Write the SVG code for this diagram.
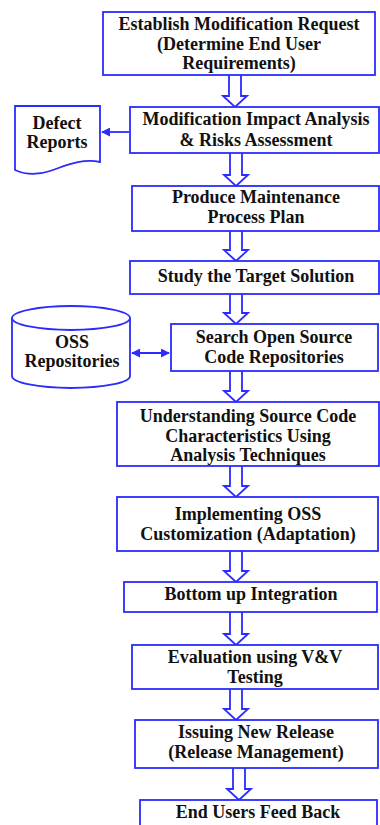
<svg xmlns="http://www.w3.org/2000/svg" width="380" height="825" viewBox="0 0 380 825">
<defs>
<style>
.box{fill:#fff;stroke:#2b2bff;stroke-width:1.8}
.t{font-family:'Liberation Serif','Times New Roman','DejaVu Serif',serif;font-weight:bold;font-size:18px;fill:#111;text-anchor:middle}
.blk{fill:#fff;stroke:#2b2bff;stroke-width:1.8;stroke-linejoin:miter}
.ln{stroke:#2b2bff;stroke-width:1.8;fill:none}
</style>
<marker id="ah" viewBox="0 0 10 10" refX="9" refY="5" markerWidth="5" markerHeight="5" orient="auto-start-reverse" markerUnits="strokeWidth">
<path d="M0,0 L10,5 L0,10 Z" fill="#2b2bff"/>
</marker>
</defs>
<rect width="380" height="825" fill="#fff"/>
<g id="connectors">
<path class="blk" d="M229,75 V96 H223 L235,107 L247,96 H241 V75"/>
<path class="blk" d="M230,153 V175 H224 L236,186 L248,175 H242 V153"/>
<path class="blk" d="M230,231 V250 H224 L236,261 L248,250 H242 V231"/>
<path class="blk" d="M230,294 V313 H224 L236,324 L248,313 H242 V294"/>
<path class="blk" d="M230,371 V391 H224 L236,402 L248,391 H242 V371"/>
<path class="blk" d="M230,466 V486 H224 L236,497 L248,486 H242 V466"/>
<path class="blk" d="M230,551 V571 H224 L236,582 L248,571 H242 V551"/>
<path class="blk" d="M230,612 V634 H224 L236,645 L248,634 H242 V612"/>
<path class="blk" d="M230,689 V709 H224 L236,720 L248,709 H242 V689"/>
<path class="blk" d="M233,768 V789 H227 L239,800 L251,789 H245 V768"/>
<line class="ln" x1="129" y1="132" x2="102" y2="132" marker-end="url(#ah)"/>
<line class="ln" x1="132" y1="353" x2="169" y2="353" marker-start="url(#ah)" marker-end="url(#ah)"/>
</g>
<g id="n1"><rect class="box" x="103" y="12" width="272" height="63"/>
<text class="t" x="239" y="30">Establish Modification Request</text>
<text class="t" x="239" y="50">(Determine End User</text>
<text class="t" x="239" y="69">Requirements)</text></g>
<g id="n2"><rect class="box" x="130" y="107" width="249" height="46"/>
<text class="t" x="256" y="125">Modification Impact Analysis</text>
<text class="t" x="256" y="146">&amp; Risks Assessment</text></g>
<g id="defect"><path class="box" d="M15,106 H100 V162 C82,158 65,166 50,171 C38,175 26,175 15,170 Z"/>
<text class="t" x="57" y="129">Defect</text>
<text class="t" x="57" y="148">Reports</text></g>
<g id="n3"><rect class="box" x="132" y="186" width="247" height="45"/>
<text class="t" x="256" y="203">Produce Maintenance</text>
<text class="t" x="256" y="223">Process Plan</text></g>
<g id="n4"><rect class="box" x="130" y="261" width="249" height="33"/>
<text class="t" x="256" y="282">Study the Target Solution</text></g>
<g id="oss"><path class="box" d="M12,318 V376 A59,12 0 0 0 130,376 V318"/>
<ellipse class="box" cx="71" cy="318" rx="59" ry="12"/>
<text class="t" x="72" y="348">OSS</text>
<text class="t" x="72" y="367">Repositories</text></g>
<g id="n5"><rect class="box" x="171" y="324" width="207" height="47"/>
<text class="t" x="274" y="343">Search Open Source</text>
<text class="t" x="274" y="363">Code Repositories</text></g>
<g id="n6"><rect class="box" x="117" y="402" width="262" height="64"/>
<text class="t" x="248" y="422">Understanding Source Code</text>
<text class="t" x="248" y="442">Characteristics Using</text>
<text class="t" x="248" y="461">Analysis Techniques</text></g>
<g id="n7"><rect class="box" x="117" y="497" width="261" height="54"/>
<text class="t" x="248" y="520">Implementing OSS</text>
<text class="t" x="248" y="540">Customization (Adaptation)</text></g>
<g id="n8"><rect class="box" x="124" y="582" width="253" height="30"/>
<text class="t" x="251" y="600">Bottom up Integration</text></g>
<g id="n9"><rect class="box" x="132" y="645" width="246" height="44"/>
<text class="t" x="255" y="663">Evaluation using V&amp;V</text>
<text class="t" x="255" y="683">Testing</text></g>
<g id="n10"><rect class="box" x="135" y="720" width="243" height="48"/>
<text class="t" x="256" y="738">Issuing New Release</text>
<text class="t" x="256" y="758">(Release Management)</text></g>
<g id="n11"><rect class="box" x="140" y="800" width="237" height="40"/>
<text class="t" x="258" y="818">End Users Feed Back</text></g>
</svg>
